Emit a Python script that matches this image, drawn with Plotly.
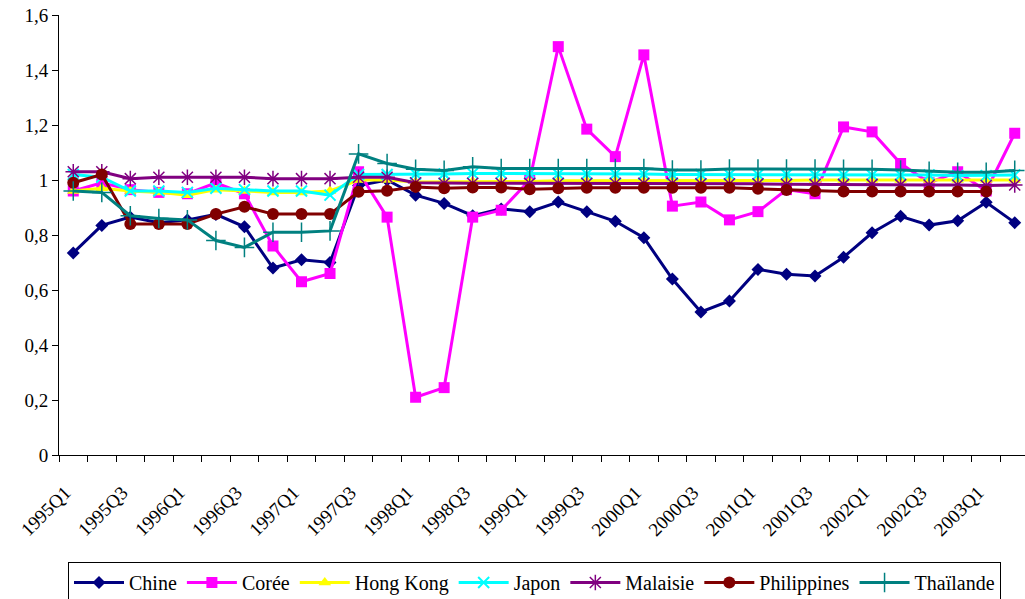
import plotly.graph_objects as go

quarters = [f"{y}Q{q}" for y in range(1995, 2004) for q in range(1, 5)][:34]

chine = [0.735, 0.835, 0.865, 0.845, 0.855, 0.875, 0.83, 0.68, 0.71, 0.70,
         0.98, 1.0, 0.945, 0.915, 0.87, 0.895, 0.885, 0.92, 0.885, 0.85,
         0.79, 0.64, 0.52, 0.56, 0.675, 0.657, 0.651, 0.719, 0.808, 0.868,
         0.836, 0.852, 0.919, 0.845]
coree = [0.96, 0.99, 0.965, 0.955, 0.95, 0.99, 0.95, 0.76, 0.63, 0.66,
         1.03, 0.865, 0.21, 0.245, 0.865, 0.89, 1.0, 1.485, 1.185, 1.085,
         1.455, 0.905, 0.92, 0.855, 0.885, 0.965, 0.95, 1.193, 1.175, 1.06,
         0.99, 1.03, 0.96, 1.17]
hongkong = [0.96, 0.97, 0.96, 0.955, 0.945, 0.965, 0.96, 0.955, 0.955, 0.96,
            1.0, 1.0, 0.993, 0.993, 0.995, 0.995, 0.995, 0.997, 0.997, 0.997,
            0.997, 0.997, 0.997, 0.997, 0.997, 0.998, 1.0, 1.0, 1.0, 1.0,
            1.0, 1.0, 1.0, 1.0]
japon = [1.02, 1.01, 0.96, 0.96, 0.955, 0.97, 0.965, 0.96, 0.96, 0.945,
         1.02, 1.02, 1.022, 1.022, 1.024, 1.024, 1.024, 1.022, 1.022, 1.022,
         1.022, 1.02, 1.02, 1.02, 1.02, 1.02, 1.018, 1.018, 1.018, 1.018,
         1.018, 1.016, 1.016, 1.018]
malaisie = [1.03, 1.03, 1.005, 1.01, 1.01, 1.01, 1.01, 1.005, 1.005, 1.005,
            1.01, 1.01, 0.99, 0.988, 0.988, 0.988, 0.988, 0.988, 0.988, 0.988,
            0.988, 0.988, 0.986, 0.986, 0.986, 0.985, 0.984, 0.984, 0.984, 0.983,
            0.982, 0.982, 0.98, 0.982]
philippines = [0.99, 1.02, 0.84, 0.84, 0.84, 0.876, 0.903, 0.876, 0.876, 0.876,
               0.957, 0.961, 0.975, 0.97, 0.973, 0.973, 0.966, 0.97, 0.972, 0.972,
               0.972, 0.972, 0.972, 0.972, 0.968, 0.964, 0.96, 0.958, 0.958, 0.958,
               0.958, 0.958, 0.958, None]
thailande = [0.96, 0.955, 0.87, 0.86, 0.855, 0.78, 0.755, 0.81, 0.81, 0.815,
             1.095, 1.06, 1.039, 1.035, 1.048, 1.042, 1.042, 1.042, 1.042, 1.042,
             1.042, 1.036, 1.036, 1.04, 1.04, 1.04, 1.04, 1.039, 1.039, 1.036,
             1.032, 1.028, 1.028, 1.035]

y_ticks = [0, 0.2, 0.4, 0.6, 0.8, 1.0, 1.2, 1.4, 1.6]
y_ticktext = ["0", "0,2", "0,4", "0,6", "0,8", "1", "1,2", "1,4", "1,6"]

series = [
    ("Chine", chine, "#000080", dict(symbol="diamond", size=10)),
    ("Corée", coree, "#FF00FF", dict(symbol="square", size=11)),
    ("Hong Kong", hongkong, "#FFFF00", dict(symbol="triangle-up", size=11)),
    ("Japon", japon, "#00FFFF", dict(symbol="x-thin-open", size=11, line=dict(width=2, color="#00FFFF"))),
    ("Malaisie", malaisie, "#800080", dict(symbol="asterisk-open", size=13, line=dict(width=1.5, color="#800080"))),
    ("Philippines", philippines, "#800000", dict(symbol="circle", size=12)),
    ("Thaïlande", thailande, "#008080", dict(symbol="cross-thin-open", size=14, line=dict(width=1.5, color="#008080"))),
]

x_idx = list(range(len(quarters)))

fig = go.Figure()
for name, vals, color, marker in series:
    m = dict(color=color)
    m.update(marker)
    fig.add_trace(go.Scatter(
        x=x_idx, y=vals, name=name, mode="lines+markers",
        line=dict(color=color, width=3), marker=m, connectgaps=False,
    ))

font_family = "'Times New Roman', 'Liberation Serif', 'DejaVu Serif', serif"

fig.update_layout(
    width=1025, height=599,
    margin=dict(l=59, r=0, t=15, b=144, autoexpand=False),
    paper_bgcolor="white", plot_bgcolor="white",
    font=dict(family=font_family, size=18, color="black"),
    showlegend=True,
    legend=dict(
        orientation="h", x=9/966, xanchor="left", y=-107/440, yanchor="top",
        bordercolor="black", borderwidth=1, font=dict(family=font_family, size=20),
        itemwidth=50, tracegroupgap=0,
    ),
    xaxis=dict(
        range=[-0.5, 33.36], showgrid=False, zeroline=False, automargin=False,
        showline=True, linecolor="black", linewidth=1,
        tickmode="array", tickvals=x_idx[::2], ticktext=quarters[::2],
        ticks="", tickangle=-45, tickfont=dict(family=font_family, size=19),
        ticklabelstandoff=18, ticklabelshift=-8,
        minor=dict(tickmode="linear", tick0=-0.5, dtick=1, ticks="outside",
                   ticklen=6, tickcolor="black", showgrid=False),
    ),
    yaxis=dict(
        range=[0, 1.6], showgrid=False, zeroline=False, automargin=False,
        showline=True, linecolor="black", linewidth=1,
        tickmode="array", tickvals=y_ticks, ticktext=y_ticktext,
        ticks="outside", ticklen=6, tickcolor="black",
        tickfont=dict(family=font_family, size=19),
        ticklabeloverflow="allow",
    ),
)

fig.write_html("out.html", config={"displayModeBar": False},
               post_script="document.body.style.margin='0';")
